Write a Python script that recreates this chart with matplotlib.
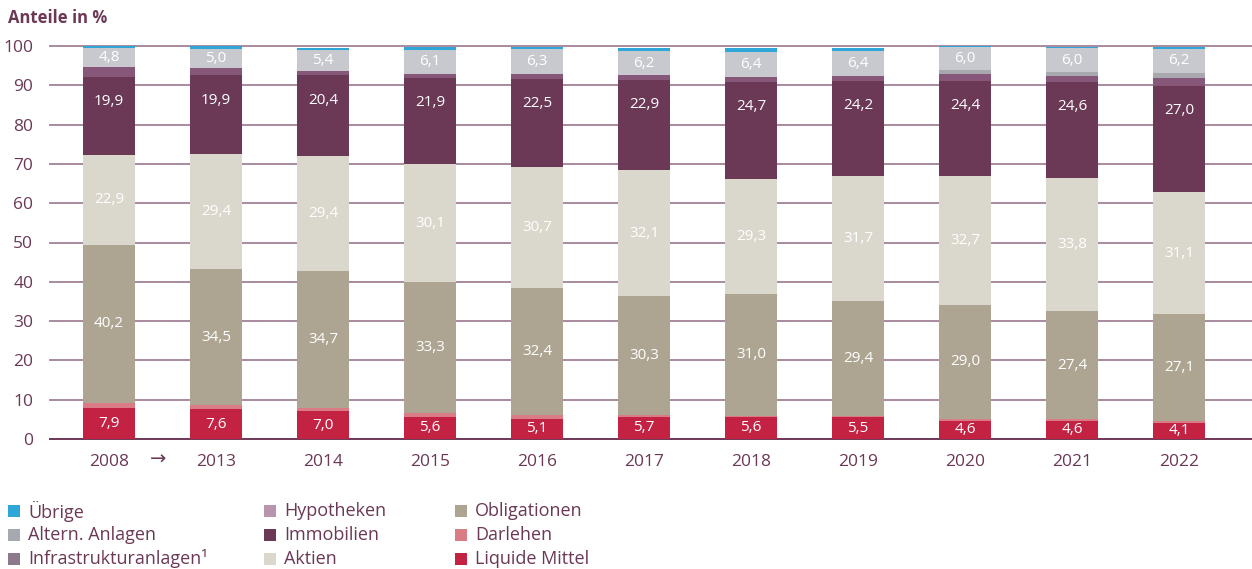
import matplotlib
matplotlib.use("Agg")
import matplotlib.pyplot as plt
from matplotlib.patches import Rectangle
import numpy as np

plt.rcParams['font.family'] = ['Open Sans', 'DejaVu Sans']

years = ["2008", "2013", "2014", "2015", "2016", "2017", "2018", "2019", "2020", "2021", "2022"]

liquide      = [7.9, 7.6, 7.0, 5.6, 5.1, 5.7, 5.6, 5.5, 4.6, 4.6, 4.1]
darlehen     = [1.3, 1.1, 1.0, 1.0, 1.0, 0.3, 0.3, 0.3, 0.5, 0.5, 0.5]
obligationen = [40.2, 34.5, 34.7, 33.3, 32.4, 30.3, 31.0, 29.4, 29.0, 27.4, 27.1]
aktien       = [22.9, 29.4, 29.4, 30.1, 30.7, 32.1, 29.3, 31.7, 32.7, 33.8, 31.1]
immobilien   = [19.9, 19.9, 20.4, 21.9, 22.5, 22.9, 24.7, 24.2, 24.4, 24.6, 27.0]
hypotheken   = [2.5, 1.8, 1.2, 1.0, 1.2, 1.2, 1.3, 1.3, 1.6, 1.5, 2.0]
infrastruktur = [0.0, 0.0, 0.0, 0.0, 0.0, 0.0, 0.0, 0.0, 1.0, 1.0, 1.3]
altern       = [4.8, 5.0, 5.4, 6.1, 6.3, 6.2, 6.4, 6.4, 6.0, 6.0, 6.2]
uebrige      = [0.5, 0.6, 0.5, 0.8, 0.6, 0.7, 1.0, 0.7, 0.3, 0.4, 0.4]

yticks = [0, 10, 20, 30, 40, 50, 60, 70, 80, 90, 100]

# stacking order bottom -> top: (values, bar color, show label)
stack = [
    (liquide, "#C42242", True),
    (darlehen, "#D97C86", False),
    (obligationen, "#ADA592", True),
    (aktien, "#DAD7CC", True),
    (immobilien, "#6B3855", True),
    (hypotheken, "#87577A", False),
    (infrastruktur, "#A8A9AE", False),
    (altern, "#C8C9CE", True),
    (uebrige, "#2EA6D8", False),
]

legend_items = [
    ("Übrige", "#2EA6D8"), ("Altern. Anlagen", "#A7A9B0"), ("Infrastrukturanlagen¹", "#8C7A8C"),
    ("Hypotheken", "#B894AE"), ("Immobilien", "#6B3855"), ("Aktien", "#DAD7CC"),
    ("Obligationen", "#ADA592"), ("Darlehen", "#D97C86"), ("Liquide Mittel", "#C42242"),
]

txt_col = "#6B3855"
W, H = 1252, 569
fig = plt.figure(figsize=(W / 100, H / 100), dpi=100)
ax = fig.add_axes([50 / W, (H - 439) / H, 1 - 50 / W, (439 - 46) / H])

x = np.arange(len(years))
bottom = np.zeros(len(years))
for vals, col, lab in stack:
    v = np.array(vals)
    ax.bar(x, v, width=0.486, bottom=bottom, color=col, zorder=3, linewidth=0)
    if lab:
        for i in range(len(years)):
            yc = bottom[i] + v[i] / 2
            if col == "#6B3855":
                yc = bottom[i] + v[i] - 6.3
            ax.text(x[i], yc, f"{vals[i]:.1f}".replace(".", ","), ha="center", va="center",
                    color="white", fontsize=11, zorder=4)
    bottom += v

for t in yticks:
    ax.axhline(t, color="#A88A9E" if t != 0 else "#6B3855", lw=1.4, zorder=1, clip_on=False)

ax.set_xlim(-0.551, 10.682)
ax.set_ylim(0, 100)
ax.set_yticks(yticks)
ax.set_yticklabels([str(t) for t in yticks], color=txt_col, fontsize=12.5)
ax.set_xticks(x)
ax.set_xticklabels(years, color=txt_col, fontsize=12.5)
ax.tick_params(axis="both", length=0)
ax.tick_params(axis="y", pad=12)
ax.tick_params(axis="x", pad=11)
for s in ax.spines.values():
    s.set_visible(False)

fig.text(158 / W, 1 - 460 / H, "→", ha="center", va="center", color=txt_col, fontsize=14)

fig.text(8 / W, 1 - 18 / H, "Anteile in %", fontsize=12, fontweight="bold", color=txt_col,
         ha="left", va="center")

col_x = [8, 264, 455]
row_y = [511, 535, 559]
for k, (name, col) in enumerate(legend_items):
    cx = col_x[k // 3]
    cy = row_y[k % 3]
    fig.add_artist(Rectangle((cx / W, 1 - (cy + 6) / H), 12 / W, 12 / H,
                             transform=fig.transFigure, color=col, lw=0))
    fig.text((cx + 20) / W, 1 - cy / H, name, fontsize=13, color=txt_col, ha="left", va="center")

fig.savefig("out.png", dpi=100)
